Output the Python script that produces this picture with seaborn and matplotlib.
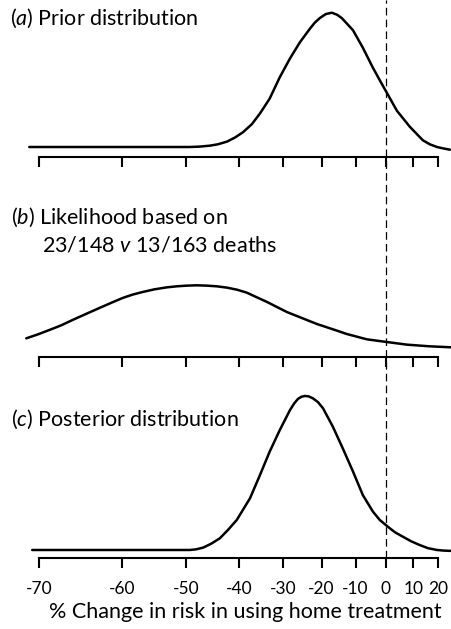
import numpy as np
import pandas as pd
import seaborn as sns
import matplotlib
matplotlib.use("Agg")  # Use a non-interactive backend
import matplotlib.pyplot as plt

# Curves: x = % change in risk, y = relative density (peak = 1)
prior_x = [-71.0, -63.0, -49.4, -47.6, -45.7, -44.2, -42.4, -40.8, -39.1, -37.2, -35.4,
           -33.2, -30.8, -28.3, -25.8, -23.2, -21.9, -20.5, -18.8, -17.1, -15.6, -14.2,
           -12.7, -10.8, -7.7, -4.4, -1.4, 0.7, 3.9, 8.7, 13.7, 16.5, 19.4, 21.9, 24.9]
prior_y = [0.0, 0.0, 0.0, 0.003, 0.01, 0.02, 0.04, 0.07, 0.11, 0.17, 0.25,
           0.36, 0.52, 0.66, 0.78, 0.88, 0.925, 0.96, 0.99, 1.0, 0.985, 0.96,
           0.92, 0.87, 0.74, 0.59, 0.47, 0.39, 0.27, 0.15, 0.05, 0.02, 0.0, -0.01, -0.02]

like_x = [-71.3, -70.1, -68.9, -67.6, -66.3, -64.7, -63.0, -61.4, -59.9, -58.5, -57.0,
          -55.2, -53.2, -51.6, -49.9, -48.1, -46.3, -44.4, -42.4, -40.4, -38.3, -36.1,
          -33.8, -31.5, -29.1, -26.6, -24.0, -21.3, -18.5, -15.6, -12.7, -9.6, -6.4,
          -3.1, 0.3, 7.6, 16.5, 25.8]
like_y = [0.205, 0.265, 0.33, 0.40, 0.48, 0.57, 0.66, 0.74, 0.81, 0.86, 0.90,
          0.94, 0.97, 0.985, 0.995, 1.0, 0.995, 0.985, 0.965, 0.935, 0.89, 0.82,
          0.75, 0.675, 0.60, 0.54, 0.48, 0.42, 0.37, 0.32, 0.27, 0.23, 0.19,
          0.17, 0.15, 0.11, 0.085, 0.07]

post_x = [-70.7, -52.8, -49.4, -48.3, -47.0, -45.5, -43.8, -42.2, -40.4, -37.6, -35.4,
          -33.2, -30.8, -28.3, -27.3, -26.3, -25.4, -24.5, -23.5, -22.4, -21.0, -19.6,
          -16.8, -13.9, -10.8, -7.7, -4.4, -2.1, 0.7, 3.2, 6.1, 9.1, 12.5, 15.7, 19.4,
          22.3, 25.8]
post_y = [0.0, 0.0, 0.0, 0.004, 0.015, 0.04, 0.076, 0.13, 0.195, 0.336, 0.487,
          0.638, 0.779, 0.909, 0.95, 0.981, 0.995, 1.0, 0.997, 0.985, 0.96, 0.92,
          0.80, 0.66, 0.51, 0.357, 0.249, 0.195, 0.151, 0.115, 0.086, 0.057, 0.032,
          0.012, 0.0, -0.004, -0.006]

tick_values = [-70, -60, -50, -40, -30, -20, -10, 0, 10, 20]
tick_labels = ["-70", "-60", "-50", "-40", "-30", "-20", "-10", "0", "10", "20"]

panel_titles = [
    "($\\mathit{a}$) Prior distribution",
    "($\\mathit{b}$) Likelihood based on",
    "($\\mathit{c}$) Posterior distribution",
]
subtitle_b = "23/148 $\\mathit{v}$ 13/163 deaths"
x_label = "% Change in risk in using home treatment"

# Figure geometry in pixels
W, H = 452, 629


def log_rr(x):
    return np.log1p(np.asarray(x, dtype=float) / 100.0)


def pct(y):
    return 100.0 * np.expm1(np.asarray(y, dtype=float))


def make_axes(fig, top, bottom, ylim):
    """Panel spanning the full width, bottom spine at pixel row `bottom`."""
    ax = fig.add_axes([0, 1 - bottom / H, 1, (bottom - top) / H])
    ax.set_facecolor("none")
    ax.set_xscale("function", functions=(log_rr, pct))
    ax.set_xlim(-73.8, 25.8)
    ax.set_ylim(*ylim)
    for side in ["left", "top", "right"]:
        ax.spines[side].set_visible(False)
    ax.spines["bottom"].set_linewidth(1.5)
    ax.spines["bottom"].set_color("black")
    ax.spines["bottom"].set_bounds(-70, 20)
    ax.set_xticks(tick_values)
    ax.set_xticks([], minor=True)
    ax.set_xticklabels([])
    ax.set_yticks([])
    ax.tick_params(axis="x", which="major", bottom=True, direction="out",
                   length=7.2, width=1.5, pad=9.5, labelsize=12.5,
                   color="black", labelcolor="black")
    return ax


sns.set_style("white")
plt.rcParams["font.family"] = ["Lato", "DejaVu Sans"]
plt.rcParams["mathtext.fontset"] = "custom"
plt.rcParams["mathtext.rm"] = "Lato"
plt.rcParams["mathtext.it"] = "Lato:italic"
plt.rcParams["lines.scale_dashes"] = False
plt.rcParams["xtick.bottom"] = True
plt.rcParams["text.color"] = "black"

fig = plt.figure(figsize=(W / 100, H / 100), dpi=100, facecolor="white")

panels = [
    (prior_x, prior_y, 0, 156.5, (-0.0707, 1.0946)),
    (like_x, like_y, 175, 357, (-0.075, 2.654)),
    (post_x, post_y, 375, 558, (-0.052, 1.136)),
]

axes = []
for xs, ys, top, bottom, ylim in panels:
    ax = make_axes(fig, top, bottom, ylim)
    df = pd.DataFrame({"change": xs, "density": ys})
    sns.lineplot(data=df, x="change", y="density", ax=ax, color="black",
                 linewidth=1.8, clip_on=False)
    ax.set_xlim(-73.8, 25.8)
    ax.set_ylim(*ylim)
    ax.set_xlabel("")
    ax.set_ylabel("")
    axes.append(ax)

# Tick labels only on the bottom panel
axes[-1].set_xticklabels(tick_labels)

# Dashed reference line at no change, running down through all panels
ax_c = axes[-1]
ax_c.axvline(0, ymin=0, ymax=558 / (558 - 375), color="black", linewidth=0.9,
             linestyle=(0, (5.5, 3.0)), clip_on=False, zorder=5)

# Panel titles
fig.text(10 / W, 1 - 18 / H, panel_titles[0], fontsize=15.5, ha="left", va="center")
fig.text(11 / W, 1 - 217 / H, panel_titles[1], fontsize=15.5, ha="left", va="center")
fig.text(42 / W, 1 - 245 / H, subtitle_b, fontsize=15.5, ha="left", va="center")
fig.text(11 / W, 1 - 419 / H, panel_titles[2], fontsize=15.5, ha="left", va="center")

fig.text(245 / W, 1 - 612 / H, x_label, fontsize=15.5, ha="center", va="center")

fig.savefig("out.png", dpi=100, facecolor="white")
plt.close(fig)
